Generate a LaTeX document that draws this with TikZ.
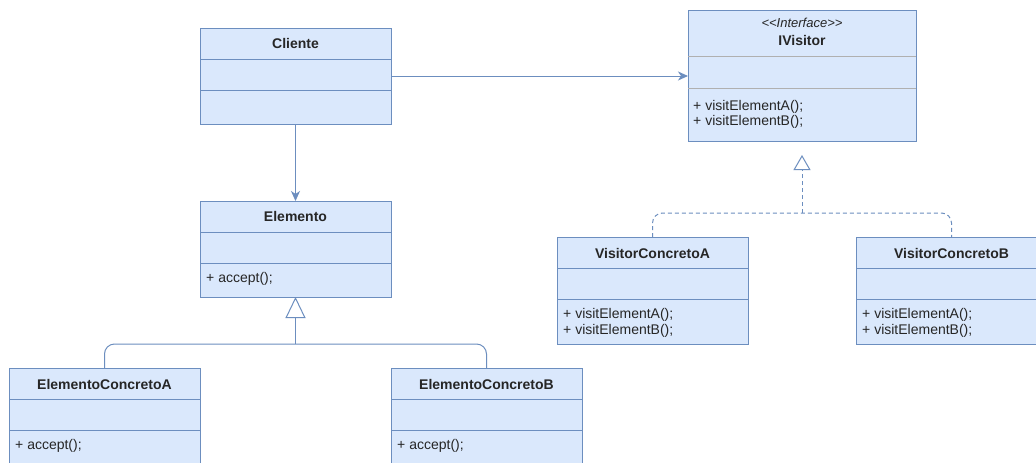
\documentclass[tikz,border=0pt]{standalone}
\usepackage{fontspec}
\setmainfont{Liberation Sans}
\usetikzlibrary{arrows.meta}
\definecolor{umlblue}{HTML}{6C8EBF}
\definecolor{umlfill}{HTML}{DAE8FC}
\definecolor{umltext}{HTML}{262626}
\definecolor{umlgray}{HTML}{B0B0B0}

\begin{document}
\begin{tikzpicture}[x=1pt,y=1pt,
  cls/.style={draw=umlblue, fill=umlfill, line width=1pt, inner sep=0pt, outer sep=0pt, anchor=north west},
  divline/.style={draw=umlblue, line width=1pt},
  ttl/.style={font=\bfseries\fontsize{14pt}{16pt}\selectfont, text=umltext, inner sep=0pt},
  stereo/.style={font=\itshape\fontsize{13pt}{16pt}\selectfont, text=umltext, inner sep=0pt},
  mth/.style={font=\fontsize{14pt}{16pt}\selectfont, text=umltext, inner sep=0pt, anchor=west},
  assoc/.style={draw=umlblue, line width=1pt, -{Stealth[length=10pt,width=9pt,inset=3pt]}},
  barline/.style={draw=umlblue, line width=1pt, rounded corners=10pt},
  inh/.style={draw=umlblue, line width=1pt, -{Triangle[length=21pt,width=20pt,fill=white]}},
  real/.style={draw=umlblue, line width=1pt, dash pattern=on 4pt off 3pt, -{Triangle[length=15pt,width=17pt,fill=white]}},
]
\fill[white] (0,0) rectangle (1036,-463);
\useasboundingbox (0,0) rectangle (1036,-463);
\clip (0,0) rectangle (1036,-463);

% Cliente
\node[cls, minimum width=191pt, minimum height=96pt] (cli) at (200,-28) {};
\draw[divline] ([yshift=-31pt]cli.north west) -- ([yshift=-31pt]cli.north east);
\draw[divline] ([yshift=-62pt]cli.north west) -- ([yshift=-62pt]cli.north east);
\node[ttl] (clit) at (295.5,-43.5) {Cliente};

% IVisitor
\node[cls, minimum width=228pt, minimum height=131pt] (ivis) at (688,-10) {};
\draw[umlgray, line width=1pt] ([yshift=-46pt]ivis.north west) -- ([yshift=-46pt]ivis.north east);
\draw[umlgray, line width=1pt] ([yshift=-78pt]ivis.north west) -- ([yshift=-78pt]ivis.north east);
\node[stereo] (ivst) at (802,-23) {{<}{<}Interface{>}{>}};
\node[ttl] (ivt) at (802,-40) {IVisitor};
\node[mth] (ivm1) at (693,-106.5) {+ visitElementA();};
\node[mth] (ivm2) at (693,-122) {+ visitElementB();};

% Elemento
\node[cls, minimum width=191pt, minimum height=96pt] (ele) at (200,-201) {};
\draw[divline] ([yshift=-31pt]ele.north west) -- ([yshift=-31pt]ele.north east);
\draw[divline] ([yshift=-62pt]ele.north west) -- ([yshift=-62pt]ele.north east);
\node[ttl] (elet) at (295.5,-216.5) {Elemento};
\node[mth] (elem) at (206,-279) {+ accept();};

% ElementoConcretoA
\node[cls, minimum width=191pt, minimum height=96pt] (eca) at (9,-368) {};
\draw[divline] ([yshift=-31pt]eca.north west) -- ([yshift=-31pt]eca.north east);
\draw[divline] ([yshift=-62pt]eca.north west) -- ([yshift=-62pt]eca.north east);
\node[ttl] (ecat) at (104.5,-384) {ElementoConcretoA};
\node[mth] (ecam) at (15,-446) {+ accept();};

% ElementoConcretoB
\node[cls, minimum width=191pt, minimum height=96pt] (ecb) at (391,-368) {};
\draw[divline] ([yshift=-31pt]ecb.north west) -- ([yshift=-31pt]ecb.north east);
\draw[divline] ([yshift=-62pt]ecb.north west) -- ([yshift=-62pt]ecb.north east);
\node[ttl] (ecbt) at (486.5,-384) {ElementoConcretoB};
\node[mth] (ecbm) at (397,-446) {+ accept();};

% VisitorConcretoA
\node[cls, minimum width=191pt, minimum height=107pt] (vca) at (557,-237) {};
\draw[divline] ([yshift=-31pt]vca.north west) -- ([yshift=-31pt]vca.north east);
\draw[divline] ([yshift=-62pt]vca.north west) -- ([yshift=-62pt]vca.north east);
\node[ttl] (vcat) at (652.5,-253) {VisitorConcretoA};
\node[mth] (vcam1) at (563,-315) {+ visitElementA();};
\node[mth] (vcam2) at (563,-331) {+ visitElementB();};

% VisitorConcretoB
\node[cls, minimum width=191pt, minimum height=107pt] (vcb) at (856,-237) {};
\draw[divline] ([yshift=-31pt]vcb.north west) -- ([yshift=-31pt]vcb.north east);
\draw[divline] ([yshift=-62pt]vcb.north west) -- ([yshift=-62pt]vcb.north east);
\node[ttl] (vcbt) at (951.5,-253) {VisitorConcretoB};
\node[mth] (vcbm1) at (862,-315) {+ visitElementA();};
\node[mth] (vcbm2) at (862,-331) {+ visitElementB();};

% associations
\draw[assoc] (cli.east) -- (cli.east -| ivis.west);
\draw[assoc] (cli.south) -- (ele.north);

% generalization of Elemento
\coordinate (ej) at ([yshift=-47pt]ele.south);
\draw[barline] (eca.north) |- (ej) -| (ecb.north);
\draw[inh] (ej) -- (ele.south);

% realization of IVisitor
\coordinate (vj) at (ivis.south |- 0,-213);
\draw[barline, dash pattern=on 4pt off 3pt] (vca.north) |- (vj) -| (vcb.north);
\draw[real, shorten >=14pt] (vj) -- (ivis.south);
\end{tikzpicture}
\end{document}
